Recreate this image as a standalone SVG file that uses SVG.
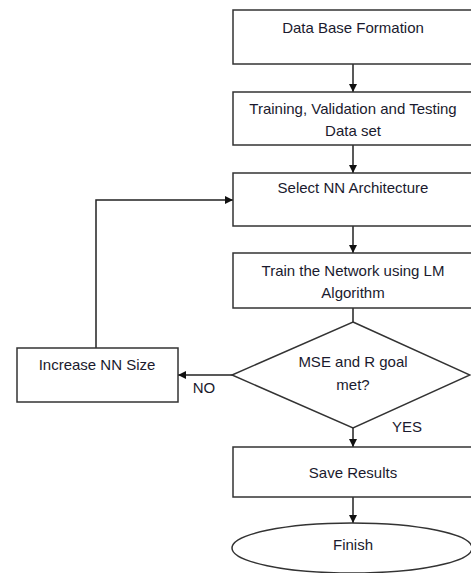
<svg xmlns="http://www.w3.org/2000/svg" width="471" height="573" viewBox="0 0 471 573">
<defs>
<marker id="ah" markerWidth="10" markerHeight="10" refX="9" refY="5" orient="auto" markerUnits="userSpaceOnUse">
<path d="M1,1 L9,5 L1,9 Z" fill="#111"/>
</marker>
<style>
.n{fill:#fff;stroke:#333;stroke-width:1.5}
.t{font-family:"Liberation Sans",Arial,sans-serif;font-size:15px;fill:#1a1a2e;text-anchor:middle}
.c{fill:none;stroke:#222;stroke-width:1.5}
</style>
</defs>
<rect width="471" height="573" fill="#fff"/>
<g id="connectors">
<line class="c" x1="353" y1="64" x2="353" y2="92" marker-end="url(#ah)"/>
<line class="c" x1="353" y1="145" x2="353" y2="173" marker-end="url(#ah)"/>
<line class="c" x1="353" y1="226" x2="353" y2="253" marker-end="url(#ah)"/>
<line class="c" x1="353" y1="308" x2="353" y2="322"/>
<line class="c" x1="232" y1="375" x2="178" y2="375" marker-end="url(#ah)"/>
<polyline class="c" points="96,348 96,200 233,200" marker-end="url(#ah)"/>
<line class="c" x1="353" y1="428" x2="353" y2="447" marker-end="url(#ah)"/>
<line class="c" x1="353" y1="497" x2="353" y2="523" marker-end="url(#ah)"/>
<text class="t" x="204" y="393">NO</text>
<text class="t" x="407" y="432">YES</text>
</g>
<g id="n1"><rect class="n" x="233" y="10" width="245" height="54"/><text class="t" x="353" y="33">Data Base Formation</text></g>
<g id="n2"><rect class="n" x="233" y="92" width="245" height="53"/><text class="t" x="353" y="114">Training, Validation and Testing</text><text class="t" x="353" y="136">Data set</text></g>
<g id="n3"><rect class="n" x="233" y="173" width="245" height="53"/><text class="t" x="353" y="193">Select NN Architecture</text></g>
<g id="n4"><rect class="n" x="233" y="253" width="245" height="55"/><text class="t" x="353" y="276">Train the Network using LM</text><text class="t" x="353" y="298">Algorithm</text></g>
<g id="n5"><polygon class="n" points="353,322 470,375 353,428 232,375"/><text class="t" x="353" y="367">MSE and R goal</text><text class="t" x="353" y="390">met?</text></g>
<g id="n6"><rect class="n" x="17" y="348" width="161" height="54"/><text class="t" x="97" y="370">Increase NN Size</text></g>
<g id="n7"><rect class="n" x="233" y="447" width="245" height="50"/><text class="t" x="353" y="478">Save Results</text></g>
<g id="n8"><ellipse class="n" cx="352" cy="548" rx="120" ry="25"/><text class="t" x="353" y="550">Finish</text></g>
</svg>
